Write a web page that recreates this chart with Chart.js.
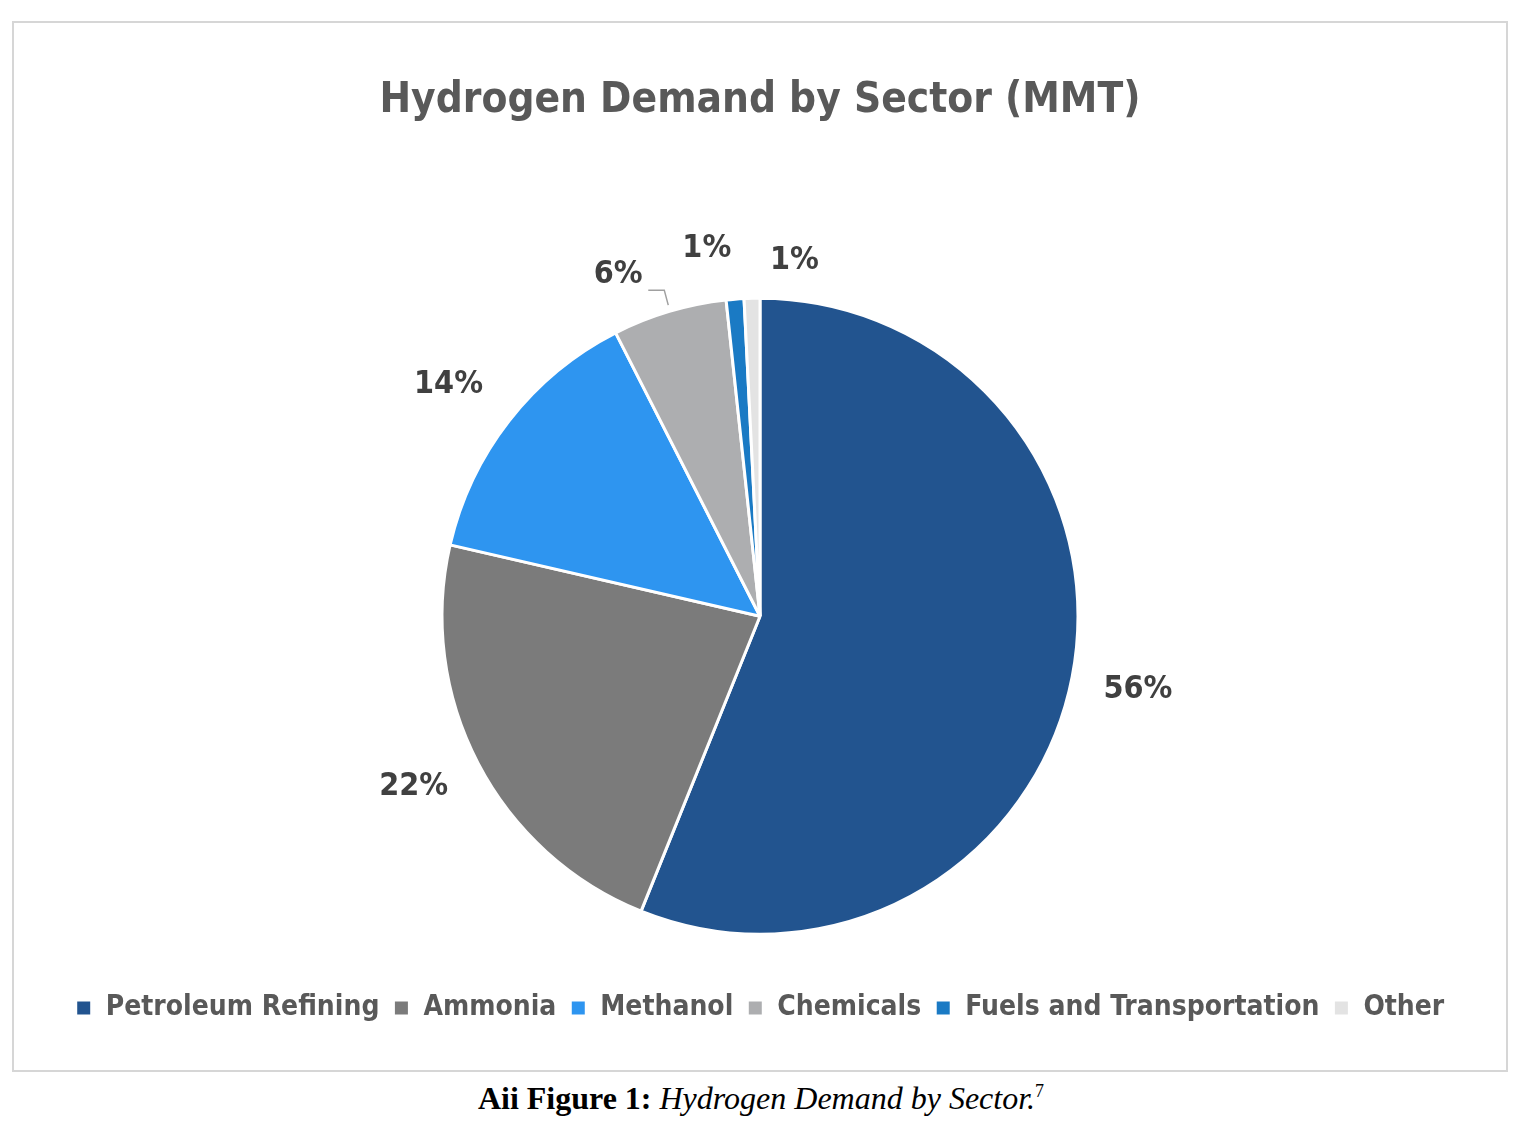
<!DOCTYPE html>
<html><head><meta charset="utf-8">
<script src="https://cdn.jsdelivr.net/npm/chart.js@4"></script>
<style>
body{margin:0;background:#fff;width:1522px;height:1137px;position:relative;}
#box{position:absolute;left:12px;top:21px;width:1492px;height:1047px;border:2px solid #d6d6d6;}
#cap{position:absolute;left:0;top:1080px;width:1522px;text-align:center;font-family:'Liberation Serif','Times New Roman',serif;font-size:32px;color:#000;}
</style></head><body>
<div id="box"><canvas id="c" width="1492" height="1047"></canvas></div>
<div id="cap"><b>Aii Figure 1:</b> <i>Hydrogen Demand by Sector.</i><sup style="font-size:18px">7</sup></div>
<script>
const categories=['Petroleum Refining','Ammonia','Methanol','Chemicals','Fuels and Transportation','Other'];
const values=[56.1,22.5,13.9,5.8,0.9,0.8];
const labelsPct=['56%','22%','14%','6%','1%','1%'];
const colors=['#22548f','#7b7b7b','#2e95f0','#adaeb0','#1a7ac4','#e3e3e3'];
const FONT="'Liberation Sans Narrow','DejaVu Sans Condensed',sans-serif";
const labelOffsets=[[0,0],[-5,-8],[-8,5],[-32,28],[-23,16],[44,29]];
const labelPlugin={id:'lbl',afterDraw(ch){
 const ctx=ch.ctx;const meta=ch.getDatasetMeta(0);
 ctx.save();ctx.font="bold 32px "+FONT;ctx.fillStyle='#404040';ctx.textAlign='center';ctx.textBaseline='middle';
 meta.data.forEach((a,i)=>{const m=(a.startAngle+a.endAngle)/2;const d=a.outerRadius+67;
  const x=a.x+Math.cos(m)*d+labelOffsets[i][0],y=a.y+Math.sin(m)*d+labelOffsets[i][1];
  ctx.fillText(labelsPct[i],x,y);
  if(i===3){ctx.strokeStyle='#a0a0a0';ctx.lineWidth=1.5;ctx.beginPath();ctx.moveTo(x+30,y+15);ctx.lineTo(x+46,y+15);ctx.lineTo(x+50,y+30);ctx.stroke();}
 });ctx.restore();}};
new Chart(document.getElementById('c'),{type:'pie',
 data:{labels:categories,datasets:[{data:values,backgroundColor:colors,borderColor:'#fff',borderWidth:3,radius:318}]},
 options:{responsive:false,animation:false,
  layout:{padding:{top:0,bottom:38}},
  plugins:{tooltip:{enabled:false},
   title:{display:true,text:'Hydrogen Demand by Sector (MMT)',color:'#595959',font:{family:FONT,size:42,weight:'bold'},padding:{top:53,bottom:126}},
   legend:{position:'bottom',labels:{color:'#595959',font:{family:FONT,size:28,weight:'bold'},boxWidth:16,boxHeight:16,padding:14}}}},
 plugins:[labelPlugin]});
</script></body></html>
